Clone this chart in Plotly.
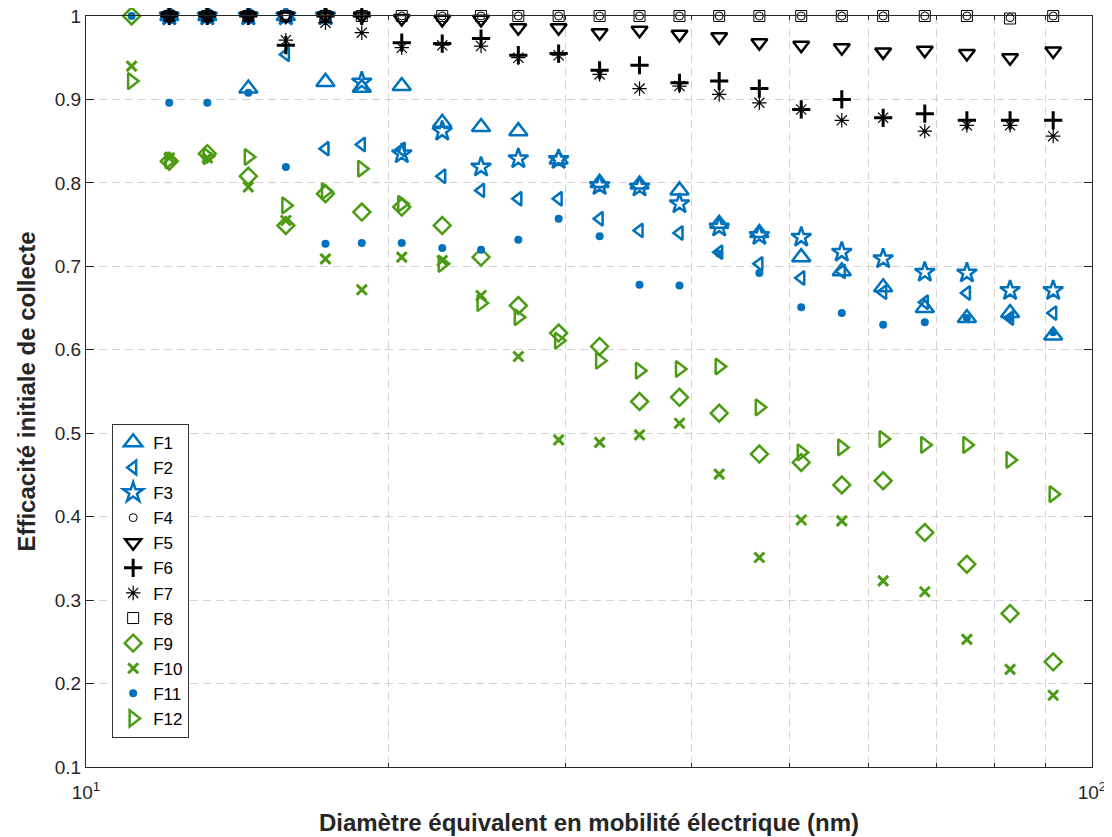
import plotly.graph_objects as go

# Diamètres de mobilité (nm) des classes granulométriques
diametres = [11.1, 12.1, 13.2, 14.5, 15.8, 17.3, 18.8, 20.6, 22.6, 24.7, 26.9, 29.5,
             32.4, 35.5, 38.9, 42.6, 46.7, 51.4, 56.4, 62.0, 68.2, 75.1, 82.9, 91.5]

# F1 à F8 commencent à la deuxième classe
f1 = [1.0, 1.0, 0.913, 1.0, 0.921, 0.914, 0.916, 0.872, 0.867, 0.862, 0.828, 0.800,
      0.798, 0.791, 0.751, 0.740, 0.711, 0.694, 0.675, 0.650, 0.638, 0.644, 0.617]
f2 = [1.0, 1.0, 1.0, 0.954, 0.841, 0.846, 0.840, 0.808, 0.791, 0.781, 0.781, 0.757,
      0.743, 0.740, 0.717, 0.703, 0.686, 0.694, 0.669, 0.657, 0.668, 0.638, 0.644]
f3 = [1.0, 1.0, 1.0, 1.0, 1.0, 0.921, 0.835, 0.862, 0.819, 0.829, 0.828, 0.797,
      0.795, 0.775, 0.747, 0.737, 0.735, 0.717, 0.709, 0.693, 0.692, 0.671, 0.671]
f4 = [1.0, 1.0, 1.0, 1.0, 1.0, 1.0, 1.0, 1.0, 1.0, 1.0, 1.0, 1.0,
      1.0, 1.0, 1.0, 1.0, 1.0, 1.0, 1.0, 1.0, 1.0, 0.998, 1.0]
f5 = [1.0, 1.0, 1.0, 1.0, 1.0, 1.0, 0.997, 0.996, 0.996, 0.986, 0.986, 0.980,
      0.983, 0.978, 0.975, 0.968, 0.965, 0.962, 0.957, 0.959, 0.955, 0.950, 0.958]
f6 = [1.0, 1.0, 1.0, 0.965, 1.0, 1.0, 0.968, 0.967, 0.973, 0.953, 0.955, 0.935,
      0.941, 0.920, 0.922, 0.913, 0.888, 0.900, 0.878, 0.883, 0.875, 0.875, 0.875]
f7 = [1.0, 1.0, 1.0, 0.971, 0.992, 0.980, 0.962, 0.965, 0.964, 0.950, 0.953, 0.930,
      0.913, 0.916, 0.906, 0.896, 0.888, 0.875, 0.878, 0.862, 0.869, 0.869, 0.856]
f8 = [1.0, 1.0, 1.0, 1.0, 1.0, 1.0, 1.0, 1.0, 1.0, 1.0, 1.0, 1.0,
      1.0, 1.0, 1.0, 1.0, 1.0, 1.0, 1.0, 1.0, 1.0, 0.997, 1.0]

# F9 à F12 commencent à la première classe
f9 = [1.0, 0.826, 0.835, 0.808, 0.749, 0.787, 0.765, 0.771, 0.749, 0.711, 0.653, 0.620,
      0.604, 0.538, 0.543, 0.524, 0.475, 0.465, 0.438, 0.443, 0.381, 0.343, 0.284, 0.226]
f10 = [0.940, 0.830, 0.830, 0.795, 0.755, 0.709, 0.672, 0.711, 0.707, 0.665, 0.592, 0.492,
       0.489, 0.498, 0.512, 0.451, 0.351, 0.396, 0.395, 0.323, 0.310, 0.253, 0.217, 0.186]
f11 = [1.0, 0.896, 0.896, 0.908, 0.819, 0.727, 0.728, 0.728, 0.722, 0.720, 0.732, 0.757,
       0.736, 0.678, 0.677, 0.715, 0.692, 0.651, 0.644, 0.630, 0.633, 0.638, 0.638, 0.621]
f12 = [0.922, 0.827, 0.832, 0.831, 0.773, 0.790, 0.817, 0.775, 0.703, 0.656, 0.639, 0.611,
       0.587, 0.575, 0.577, 0.580, 0.531, 0.477, 0.483, 0.493, 0.486, 0.486, 0.468, 0.427]

BLEU = "#0072BD"
VERT = "#4B9B14"
NOIR = "#000000"
FONT = "Liberation Sans, Arial, sans-serif"
GRIS = "#262626"
GRILLE = "#D4D4D4"

# (nom, valeurs, symbole, taille, couleur, épaisseur du trait)
series = [
    ("F1", f1, "triangle-up-open", 16, BLEU, 2.5),
    ("F2", f2, "triangle-left-open", 12, BLEU, 2.5),
    ("F3", f3, "star-open", 15, BLEU, 2.5),
    ("F4", f4, "circle-open", 8, NOIR, 1),
    ("F5", f5, "triangle-down-open", 14, NOIR, 2.5),
    ("F6", f6, "cross-thin-open", 13, NOIR, 3),
    ("F7", f7, "asterisk-open", 12, NOIR, 1.2),
    ("F8", f8, "square-open", 11, NOIR, 1),
    ("F9", f9, "diamond-open", 13, VERT, 2.5),
    ("F10", f10, "x-thin-open", 10, VERT, 3),
    ("F11", f11, "circle", 8, BLEU, 0),
    ("F12", f12, "triangle-right-open", 14, VERT, 2.5),
]

fig = go.Figure()
for name, values, symbol, size, color, lw in series:
    xs = diametres[len(diametres) - len(values):]
    fig.add_scatter(
        x=xs, y=values, mode="markers", name=name, cliponaxis=False,
        marker=dict(symbol=symbol, size=size, color=color,
                    line=dict(color=color, width=lw)),
    )

axis_common = dict(
    showline=True, linecolor=GRIS, linewidth=1, mirror="ticks",
    ticks="inside", tickcolor=GRIS, ticklen=8, automargin=False,
    ticklabeloverflow="allow",
    tickfont=dict(family=FONT, size=19, color=GRIS),
    gridcolor=GRILLE, griddash="8px,5px", gridwidth=1, zeroline=False,
)

fig.update_xaxes(
    type="log", range=[1, 2],
    tickvals=[10, 100], ticktext=["10<sup>1</sup>", "10<sup>2</sup>"],
    showgrid=False, ticklabelstandoff=8,
    minor=dict(tickvals=[20, 30, 40, 50, 60, 70, 80, 90], ticks="inside",
               ticklen=4, tickcolor=GRIS, showgrid=True,
               gridcolor=GRILLE, griddash="8px,5px"),
    title=dict(text="<b>Diamètre équivalent en mobilité électrique (nm)</b>",
               font=dict(family=FONT, size=24, color=GRIS), standoff=12),
    **axis_common,
)
fig.update_yaxes(
    range=[0.1, 1], tickvals=[0.1, 0.2, 0.3, 0.4, 0.5, 0.6, 0.7, 0.8, 0.9, 1.0],
    ticktext=["0.1", "0.2", "0.3", "0.4", "0.5", "0.6", "0.7", "0.8", "0.9", "1"],
    showgrid=True,
    title=dict(text="<b>Efficacité initiale de collecte</b>",
               font=dict(family=FONT, size=24, color=GRIS), standoff=12),
    **axis_common,
)

# la page ajoute une marge de 8 px autour de la figure
fig.update_layout(
    width=1104, height=829,
    margin=dict(l=78, r=20, t=8, b=70),
    paper_bgcolor="white", plot_bgcolor="white",
    font=dict(family=FONT, size=17, color="#000000"),
    legend=dict(x=0.026, y=0.457, xanchor="left", yanchor="top",
                bordercolor="#333333", borderwidth=1, bgcolor="white",
                font=dict(family=FONT, size=17), tracegroupgap=0,
                itemwidth=30),
)

fig.write_html("out.html")
